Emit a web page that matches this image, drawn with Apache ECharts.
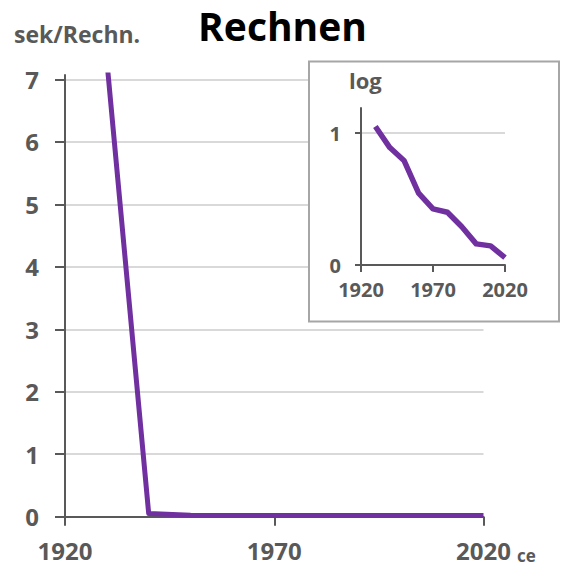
<!DOCTYPE html>
<html>
<head>
<meta charset="utf-8">
<title>Rechnen</title>
<script src="https://cdn.jsdelivr.net/npm/echarts@6/dist/echarts.min.js"></script>
<style>
  html, body { margin: 0; padding: 0; background: #fff; }
  #main { width: 565px; height: 566px; }
</style>
</head>
<body>
<div id="main"></div>
<script>
// Jahre (gleich fuer beide Diagramme)
var years = [1930, 1940, 1950, 1960, 1970, 1980, 1990, 2000, 2010, 2020];
// Hauptdiagramm: Sekunden pro Rechnung
var secPerCalc = [7.3, 0.05, 0.025, 0.02, 0.02, 0.02, 0.02, 0.02, 0.02, 0.02];
// Einschub: log-Werte
var logValues = [1.05, 0.89, 0.79, 0.545, 0.425, 0.40, 0.29, 0.16, 0.145, 0.055];
var mainYTicks = [0, 1, 2, 3, 4, 5, 6, 7];
var insetYTicks = [0, 1];

var grey = '#595959';
var gridGrey = '#d9d9d9';
var purple = '#7030a0';
var font = '"Open Sans", "DejaVu Sans", sans-serif';

function pairs(xs, ys) {
    var out = [];
    for (var i = 0; i < xs.length; i++) out.push([xs[i], ys[i]]);
    return out;
}

// Jahreszahlen ohne Tausendertrenner
function yearLabel(v) { return String(v); }

var chart = echarts.init(document.getElementById('main'), null, { renderer: 'svg' });

var option = {
    animation: false,
    backgroundColor: '#fff',
    title: {
        text: 'Rechnen',
        left: 'center',
        top: 1,
        textStyle: { fontFamily: font, fontWeight: 'bold', fontSize: 39, color: '#000' }
    },
    grid: [
        { left: 65, right: 81.5, top: 75, bottom: 49.3 },
        { left: 361, right: 60, top: 108, bottom: 301 }
    ],
    xAxis: [{
        gridIndex: 0, type: 'value', min: 1920, max: 2020, interval: 50,
        axisLine: { lineStyle: { color: grey, width: 2 } },
        axisTick: { show: true, length: 9, lineStyle: { color: grey, width: 2 } },
        axisLabel: { margin: 22, formatter: yearLabel, color: grey, fontFamily: font, fontWeight: 'bold', fontSize: 24 },
        splitLine: { show: false }
    }, {
        gridIndex: 1, type: 'value', min: 1920, max: 2020, interval: 50, z: 5,
        axisLine: { lineStyle: { color: grey, width: 2 } },
        axisTick: { show: true, length: 7, lineStyle: { color: grey, width: 2 } },
        axisLabel: { margin: 14, formatter: yearLabel, color: grey, fontFamily: font, fontWeight: 'bold', fontSize: 20 },
        splitLine: { show: false }
    }],
    yAxis: [{
        gridIndex: 0, type: 'value', min: 0, max: 7.07,
        axisLine: { show: true, lineStyle: { color: grey, width: 2 } },
        axisTick: { show: true, length: 10, customValues: mainYTicks, lineStyle: { color: grey, width: 2 } },
        axisLabel: { margin: 26, customValues: mainYTicks, color: grey, fontFamily: font, fontWeight: 'bold', fontSize: 24 },
        splitLine: { show: true, lineStyle: { color: gridGrey, width: 2 } }
    }, {
        gridIndex: 1, type: 'value', min: 0, max: 1.19, z: 5,
        axisLine: { show: true, lineStyle: { color: grey, width: 2 } },
        axisTick: { show: true, length: 6, customValues: insetYTicks, lineStyle: { color: grey, width: 2 } },
        axisLabel: { margin: 20, customValues: insetYTicks, color: grey, fontFamily: font, fontWeight: 'bold', fontSize: 20 },
        splitLine: { show: true, lineStyle: { color: gridGrey, width: 2 } }
    }],
    graphic: [{
        type: 'rect', z: 1,
        shape: { x: 309, y: 61.5, width: 250, height: 260 },
        style: { fill: '#fff', stroke: '#a6a6a6', lineWidth: 2 }
    }, {
        type: 'text', z: 10, x: 14, y: 34,
        style: { text: 'sek/Rechn.', fill: grey, font: 'bold 23px ' + font, verticalAlign: 'middle' }
    }, {
        type: 'text', z: 10, x: 349, y: 80,
        style: { text: 'log', fill: grey, font: 'bold 22px ' + font, verticalAlign: 'middle' }
    }, {
        type: 'text', z: 10, x: 517, y: 555,
        style: { text: 'ce', fill: grey, font: 'bold 17px ' + font, verticalAlign: 'middle' }
    }],
    series: [{
        type: 'line', xAxisIndex: 0, yAxisIndex: 0,
        data: pairs(years, secPerCalc),
        showSymbol: false, clip: true,
        lineStyle: { color: purple, width: 5, join: 'round' }
    }, {
        type: 'line', xAxisIndex: 1, yAxisIndex: 1, z: 6,
        data: pairs(years, logValues),
        showSymbol: false,
        lineStyle: { color: purple, width: 5.5, join: 'round' }
    }]
};

chart.setOption(option);
</script>
</body>
</html>
